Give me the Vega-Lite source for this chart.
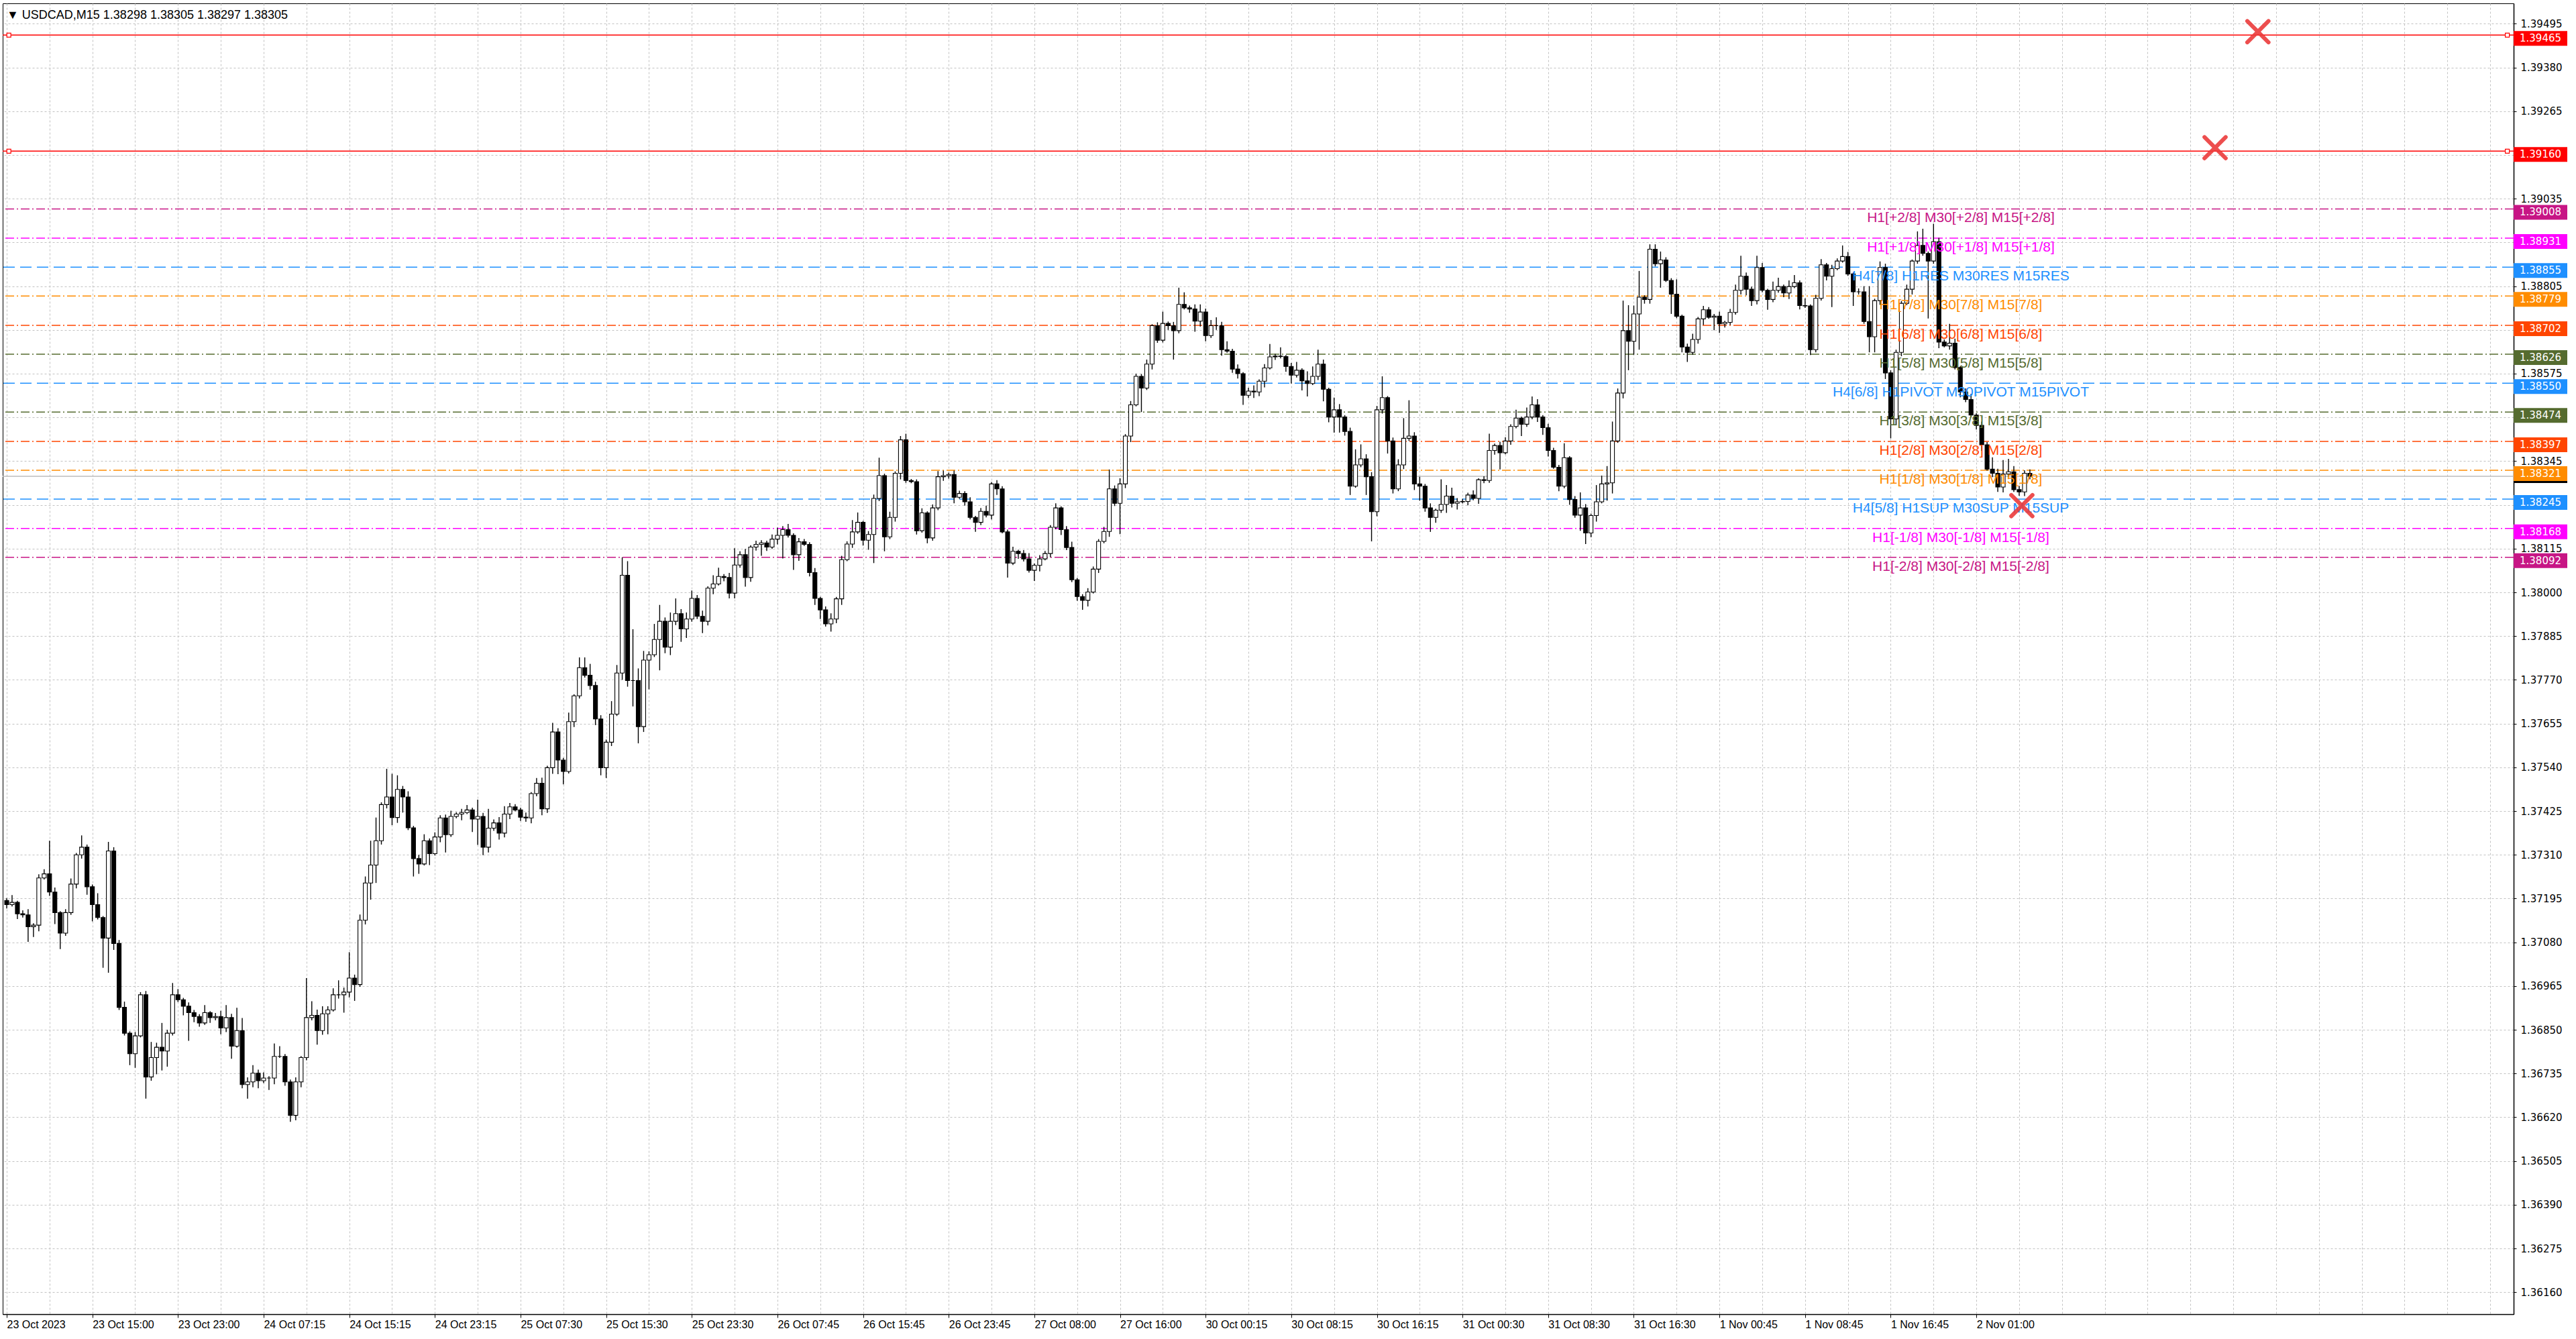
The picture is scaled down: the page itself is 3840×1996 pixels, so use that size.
{
  "$schema": "https://vega.github.io/schema/vega-lite/v6.json",
  "width": 3743,
  "height": 1954,
  "autosize": {"type": "none"},
  "padding": {"left": 4, "top": 5, "right": 93, "bottom": 37},
  "background": "#ffffff",
  "title": {
    "text": "▼  USDCAD,M15  1.38298 1.38305 1.38297 1.38305",
    "anchor": "start",
    "frame": "group",
    "orient": "top",
    "offset": -27,
    "dx": 6,
    "font": "Liberation Sans",
    "fontSize": 18,
    "fontWeight": "normal",
    "color": "#000000"
  },
  "config": {"view": {"stroke": "#000000", "strokeWidth": 1}},
  "datasets": {
    "levels": [
      {"p": 1.39465, "g": "SL"},
      {"p": 1.3916, "g": "SL"},
      {"p": 1.39008, "g": "2/8", "t": "H1[+2/8] M30[+2/8] M15[+2/8]"},
      {"p": 1.38931, "g": "1/8", "t": "H1[+1/8] M30[+1/8] M15[+1/8]"},
      {"p": 1.38855, "g": "H4", "t": "H4[7/8] H1RES M30RES M15RES"},
      {"p": 1.38779, "g": "7/8", "t": "H1[7/8] M30[7/8] M15[7/8]"},
      {"p": 1.38702, "g": "6/8", "t": "H1[6/8] M30[6/8] M15[6/8]"},
      {"p": 1.38626, "g": "5/8", "t": "H1[5/8] M30[5/8] M15[5/8]"},
      {"p": 1.3855, "g": "H4", "t": "H4[6/8] H1PIVOT M30PIVOT M15PIVOT"},
      {"p": 1.38474, "g": "5/8", "t": "H1[3/8] M30[3/8] M15[3/8]"},
      {"p": 1.38397, "g": "6/8", "t": "H1[2/8] M30[2/8] M15[2/8]"},
      {"p": 1.38321, "g": "7/8", "t": "H1[1/8] M30[1/8] M15[1/8]"},
      {"p": 1.38245, "g": "H4", "t": "H4[5/8] H1SUP M30SUP M15SUP"},
      {"p": 1.38168, "g": "1/8", "t": "H1[-1/8] M30[-1/8] M15[-1/8]"},
      {"p": 1.38092, "g": "2/8", "t": "H1[-2/8] M30[-2/8] M15[-2/8]"}
    ],
    "bid": [{"p": 1.38305}],
    "xs": [
      {"i": 420.6, "p": 1.39474},
      {"i": 412.6, "p": 1.39169},
      {"i": 376.5, "p": 1.38228}
    ],
    "bars": [
      {"i":0,"o":1.3719,"h":1.37196,"l":1.37169,"c":1.37179},
      {"i":1,"o":1.37179,"h":1.37204,"l":1.37174,"c":1.37185},
      {"i":2,"o":1.37185,"h":1.37189,"l":1.37141,"c":1.37155},
      {"i":3,"o":1.37155,"h":1.37164,"l":1.37145,"c":1.37152},
      {"i":4,"o":1.37152,"h":1.37167,"l":1.37081,"c":1.37121},
      {"i":5,"o":1.37121,"h":1.3713,"l":1.37094,"c":1.37125},
      {"i":6,"o":1.37125,"h":1.37259,"l":1.37109,"c":1.37249},
      {"i":7,"o":1.37249,"h":1.37272,"l":1.37245,"c":1.3726},
      {"i":8,"o":1.3726,"h":1.37347,"l":1.37202,"c":1.37212},
      {"i":9,"o":1.37212,"h":1.37224,"l":1.37128,"c":1.37158},
      {"i":10,"o":1.37158,"h":1.37162,"l":1.37062,"c":1.37104},
      {"i":11,"o":1.37104,"h":1.37167,"l":1.37097,"c":1.37158},
      {"i":12,"o":1.37158,"h":1.37248,"l":1.37152,"c":1.37233},
      {"i":13,"o":1.37233,"h":1.37315,"l":1.37222,"c":1.3731},
      {"i":14,"o":1.3731,"h":1.37361,"l":1.373,"c":1.3733},
      {"i":15,"o":1.3733,"h":1.37337,"l":1.37205,"c":1.37226},
      {"i":16,"o":1.37226,"h":1.37232,"l":1.37135,"c":1.37179},
      {"i":17,"o":1.37179,"h":1.37209,"l":1.3714,"c":1.37145},
      {"i":18,"o":1.37145,"h":1.37149,"l":1.37013,"c":1.37091},
      {"i":19,"o":1.37091,"h":1.37344,"l":1.37,"c":1.3732},
      {"i":20,"o":1.3732,"h":1.3733,"l":1.3706,"c":1.37077},
      {"i":21,"o":1.37077,"h":1.37086,"l":1.36902,"c":1.36909},
      {"i":22,"o":1.36909,"h":1.36924,"l":1.36835,"c":1.36841},
      {"i":23,"o":1.36841,"h":1.36846,"l":1.36757,"c":1.36787},
      {"i":24,"o":1.36787,"h":1.36844,"l":1.3675,"c":1.36834},
      {"i":25,"o":1.36834,"h":1.36949,"l":1.3683,"c":1.36942},
      {"i":26,"o":1.36942,"h":1.36952,"l":1.36669,"c":1.36726},
      {"i":27,"o":1.36726,"h":1.36818,"l":1.36716,"c":1.36777},
      {"i":28,"o":1.36777,"h":1.36816,"l":1.36733,"c":1.36804},
      {"i":29,"o":1.36804,"h":1.36868,"l":1.36743,"c":1.36794},
      {"i":30,"o":1.36794,"h":1.3685,"l":1.36753,"c":1.36841},
      {"i":31,"o":1.36841,"h":1.36973,"l":1.36835,"c":1.36942},
      {"i":32,"o":1.36942,"h":1.36957,"l":1.36923,"c":1.36929},
      {"i":33,"o":1.36929,"h":1.36934,"l":1.36888,"c":1.36912},
      {"i":34,"o":1.36912,"h":1.36922,"l":1.36821,"c":1.36895},
      {"i":35,"o":1.36895,"h":1.36902,"l":1.3687,"c":1.36885},
      {"i":36,"o":1.36885,"h":1.36891,"l":1.36858,"c":1.36868},
      {"i":37,"o":1.36868,"h":1.36915,"l":1.36863,"c":1.36895},
      {"i":38,"o":1.36895,"h":1.36899,"l":1.36868,"c":1.36882},
      {"i":39,"o":1.36882,"h":1.36894,"l":1.36875,"c":1.36885},
      {"i":40,"o":1.36885,"h":1.369,"l":1.36838,"c":1.36855},
      {"i":41,"o":1.36855,"h":1.36915,"l":1.36844,"c":1.36882},
      {"i":42,"o":1.36882,"h":1.36892,"l":1.36774,"c":1.36807},
      {"i":43,"o":1.36807,"h":1.36908,"l":1.36803,"c":1.36848},
      {"i":44,"o":1.36848,"h":1.36881,"l":1.36696,"c":1.36706},
      {"i":45,"o":1.36706,"h":1.36725,"l":1.36669,"c":1.36713},
      {"i":46,"o":1.36713,"h":1.36757,"l":1.36699,"c":1.36736},
      {"i":47,"o":1.36736,"h":1.36745,"l":1.36696,"c":1.36716},
      {"i":48,"o":1.36716,"h":1.36738,"l":1.3671,"c":1.36723},
      {"i":49,"o":1.36723,"h":1.36728,"l":1.36692,"c":1.36723},
      {"i":50,"o":1.36723,"h":1.36814,"l":1.36707,"c":1.3678},
      {"i":51,"o":1.3678,"h":1.36807,"l":1.36776,"c":1.3678},
      {"i":52,"o":1.3678,"h":1.36786,"l":1.36703,"c":1.36713},
      {"i":53,"o":1.36713,"h":1.36719,"l":1.36608,"c":1.36625},
      {"i":54,"o":1.36625,"h":1.36725,"l":1.36612,"c":1.36713},
      {"i":55,"o":1.36713,"h":1.36781,"l":1.36699,"c":1.36777},
      {"i":56,"o":1.36777,"h":1.36986,"l":1.3677,"c":1.36882},
      {"i":57,"o":1.36882,"h":1.36925,"l":1.36875,"c":1.36888},
      {"i":58,"o":1.36888,"h":1.36903,"l":1.36811,"c":1.36848},
      {"i":59,"o":1.36848,"h":1.36912,"l":1.36837,"c":1.36892},
      {"i":60,"o":1.36892,"h":1.36912,"l":1.36838,"c":1.36902},
      {"i":61,"o":1.36902,"h":1.36959,"l":1.36898,"c":1.36942},
      {"i":62,"o":1.36942,"h":1.3698,"l":1.36932,"c":1.36942},
      {"i":63,"o":1.36942,"h":1.36961,"l":1.36895,"c":1.36949},
      {"i":64,"o":1.36949,"h":1.37054,"l":1.36935,"c":1.36986},
      {"i":65,"o":1.36986,"h":1.36995,"l":1.36926,"c":1.36969},
      {"i":66,"o":1.36969,"h":1.37153,"l":1.36963,"c":1.37138},
      {"i":67,"o":1.37138,"h":1.37253,"l":1.37127,"c":1.37236},
      {"i":68,"o":1.37236,"h":1.37347,"l":1.37192,"c":1.37283},
      {"i":69,"o":1.37283,"h":1.37408,"l":1.37236,"c":1.37347},
      {"i":70,"o":1.37347,"h":1.37448,"l":1.37337,"c":1.37442},
      {"i":71,"o":1.37442,"h":1.37536,"l":1.37432,"c":1.37462},
      {"i":72,"o":1.37462,"h":1.37523,"l":1.37388,"c":1.37408},
      {"i":73,"o":1.37408,"h":1.37519,"l":1.37394,"c":1.37482},
      {"i":74,"o":1.37482,"h":1.37491,"l":1.37421,"c":1.37462},
      {"i":75,"o":1.37462,"h":1.37477,"l":1.37375,"c":1.37381},
      {"i":76,"o":1.37381,"h":1.37386,"l":1.37253,"c":1.373},
      {"i":77,"o":1.373,"h":1.3731,"l":1.3726,"c":1.37286},
      {"i":78,"o":1.37286,"h":1.37364,"l":1.37282,"c":1.37347},
      {"i":79,"o":1.37347,"h":1.37353,"l":1.37283,"c":1.37313},
      {"i":80,"o":1.37313,"h":1.37369,"l":1.37308,"c":1.37357},
      {"i":81,"o":1.37357,"h":1.37414,"l":1.37343,"c":1.37407},
      {"i":82,"o":1.37407,"h":1.37416,"l":1.37316,"c":1.37363},
      {"i":83,"o":1.37363,"h":1.37426,"l":1.37357,"c":1.37411},
      {"i":84,"o":1.37411,"h":1.37422,"l":1.37406,"c":1.37417},
      {"i":85,"o":1.37417,"h":1.37431,"l":1.37401,"c":1.37421},
      {"i":86,"o":1.37421,"h":1.37441,"l":1.37417,"c":1.37428},
      {"i":87,"o":1.37428,"h":1.37434,"l":1.3737,"c":1.37404},
      {"i":88,"o":1.37404,"h":1.37455,"l":1.37336,"c":1.37411},
      {"i":89,"o":1.37411,"h":1.3742,"l":1.37309,"c":1.3733},
      {"i":90,"o":1.3733,"h":1.37431,"l":1.37316,"c":1.3738},
      {"i":91,"o":1.3738,"h":1.37403,"l":1.37373,"c":1.37394},
      {"i":92,"o":1.37394,"h":1.37409,"l":1.3735,"c":1.37367},
      {"i":93,"o":1.37367,"h":1.37438,"l":1.37356,"c":1.37417},
      {"i":94,"o":1.37417,"h":1.37446,"l":1.37404,"c":1.37436},
      {"i":95,"o":1.37436,"h":1.37443,"l":1.37424,"c":1.37428},
      {"i":96,"o":1.37428,"h":1.37434,"l":1.37399,"c":1.37409},
      {"i":97,"o":1.37409,"h":1.37421,"l":1.37397,"c":1.37407},
      {"i":98,"o":1.37407,"h":1.37475,"l":1.37393,"c":1.37471},
      {"i":99,"o":1.37471,"h":1.37512,"l":1.37464,"c":1.37498},
      {"i":100,"o":1.37498,"h":1.37513,"l":1.37414,"c":1.37431},
      {"i":101,"o":1.37431,"h":1.37544,"l":1.3742,"c":1.37539},
      {"i":102,"o":1.37539,"h":1.37657,"l":1.37523,"c":1.37633},
      {"i":103,"o":1.37633,"h":1.37643,"l":1.37522,"c":1.37559},
      {"i":104,"o":1.37559,"h":1.37565,"l":1.37495,"c":1.37529},
      {"i":105,"o":1.37529,"h":1.37684,"l":1.37524,"c":1.3766},
      {"i":106,"o":1.3766,"h":1.37732,"l":1.37646,"c":1.37728},
      {"i":107,"o":1.37728,"h":1.37829,"l":1.37721,"c":1.37802},
      {"i":108,"o":1.37802,"h":1.37829,"l":1.37776,"c":1.37782},
      {"i":109,"o":1.37782,"h":1.37812,"l":1.37744,"c":1.37755},
      {"i":110,"o":1.37755,"h":1.37765,"l":1.37651,"c":1.37667},
      {"i":111,"o":1.37667,"h":1.37677,"l":1.37519,"c":1.37539},
      {"i":112,"o":1.37539,"h":1.37613,"l":1.37512,"c":1.37606},
      {"i":113,"o":1.37606,"h":1.37714,"l":1.37596,"c":1.3768},
      {"i":114,"o":1.3768,"h":1.37809,"l":1.37675,"c":1.37788},
      {"i":115,"o":1.37788,"h":1.38092,"l":1.3777,"c":1.38045},
      {"i":116,"o":1.38045,"h":1.38082,"l":1.37752,"c":1.37768},
      {"i":117,"o":1.37768,"h":1.37903,"l":1.377,"c":1.37768},
      {"i":118,"o":1.37768,"h":1.378,"l":1.37603,"c":1.37647},
      {"i":119,"o":1.37647,"h":1.37846,"l":1.37633,"c":1.37822},
      {"i":120,"o":1.37822,"h":1.37845,"l":1.37745,"c":1.37836},
      {"i":121,"o":1.37836,"h":1.37917,"l":1.3783,"c":1.37876},
      {"i":122,"o":1.37876,"h":1.37967,"l":1.37795,"c":1.37924},
      {"i":123,"o":1.37924,"h":1.37934,"l":1.3784,"c":1.37856},
      {"i":124,"o":1.37856,"h":1.37947,"l":1.37835,"c":1.37924},
      {"i":125,"o":1.37924,"h":1.37984,"l":1.37914,"c":1.37944},
      {"i":126,"o":1.37944,"h":1.37956,"l":1.3787,"c":1.37904},
      {"i":127,"o":1.37904,"h":1.37947,"l":1.3788,"c":1.3793},
      {"i":128,"o":1.3793,"h":1.38005,"l":1.37923,"c":1.37984},
      {"i":129,"o":1.37984,"h":1.37993,"l":1.3793,"c":1.37937},
      {"i":130,"o":1.37937,"h":1.37952,"l":1.37893,"c":1.37924},
      {"i":131,"o":1.37924,"h":1.38016,"l":1.37913,"c":1.38011},
      {"i":132,"o":1.38011,"h":1.38045,"l":1.37995,"c":1.38022},
      {"i":133,"o":1.38022,"h":1.38065,"l":1.38018,"c":1.38042},
      {"i":134,"o":1.38042,"h":1.38048,"l":1.38029,"c":1.38039},
      {"i":135,"o":1.38039,"h":1.38051,"l":1.37984,"c":1.37998},
      {"i":136,"o":1.37998,"h":1.38116,"l":1.37984,"c":1.38072},
      {"i":137,"o":1.38072,"h":1.38108,"l":1.38065,"c":1.38099},
      {"i":138,"o":1.38099,"h":1.38114,"l":1.38015,"c":1.38039},
      {"i":139,"o":1.38039,"h":1.38124,"l":1.38028,"c":1.38119},
      {"i":140,"o":1.38119,"h":1.38136,"l":1.3811,"c":1.38126},
      {"i":141,"o":1.38126,"h":1.38137,"l":1.38096,"c":1.3813},
      {"i":142,"o":1.3813,"h":1.38136,"l":1.38109,"c":1.38119},
      {"i":143,"o":1.38119,"h":1.38152,"l":1.38114,"c":1.3814},
      {"i":144,"o":1.3814,"h":1.3817,"l":1.38126,"c":1.3815},
      {"i":145,"o":1.3815,"h":1.38174,"l":1.38089,"c":1.38165},
      {"i":146,"o":1.38165,"h":1.3818,"l":1.38144,"c":1.3815},
      {"i":147,"o":1.3815,"h":1.38155,"l":1.38059,"c":1.38099},
      {"i":148,"o":1.38099,"h":1.38143,"l":1.38083,"c":1.38133},
      {"i":149,"o":1.38133,"h":1.3814,"l":1.38122,"c":1.38126},
      {"i":150,"o":1.38126,"h":1.38132,"l":1.38042,"c":1.38052},
      {"i":151,"o":1.38052,"h":1.38064,"l":1.37967,"c":1.37984},
      {"i":152,"o":1.37984,"h":1.37988,"l":1.3793,"c":1.37954},
      {"i":153,"o":1.37954,"h":1.37963,"l":1.3791,"c":1.37917},
      {"i":154,"o":1.37917,"h":1.37945,"l":1.37897,"c":1.3793},
      {"i":155,"o":1.3793,"h":1.37988,"l":1.37919,"c":1.37983},
      {"i":156,"o":1.37983,"h":1.38096,"l":1.37967,"c":1.38086},
      {"i":157,"o":1.38086,"h":1.38134,"l":1.38082,"c":1.38127},
      {"i":158,"o":1.38127,"h":1.3819,"l":1.38117,"c":1.38159},
      {"i":159,"o":1.38159,"h":1.3821,"l":1.38154,"c":1.38184},
      {"i":160,"o":1.38184,"h":1.38188,"l":1.38123,"c":1.38137},
      {"i":161,"o":1.38137,"h":1.38161,"l":1.38112,"c":1.38152},
      {"i":162,"o":1.38152,"h":1.38257,"l":1.38077,"c":1.38247},
      {"i":163,"o":1.38247,"h":1.38354,"l":1.3824,"c":1.38307},
      {"i":164,"o":1.38307,"h":1.38312,"l":1.38108,"c":1.38146},
      {"i":165,"o":1.38146,"h":1.38212,"l":1.3814,"c":1.38197},
      {"i":166,"o":1.38197,"h":1.38318,"l":1.38186,"c":1.38313},
      {"i":167,"o":1.38313,"h":1.38411,"l":1.38297,"c":1.38401},
      {"i":168,"o":1.38401,"h":1.38417,"l":1.38288,"c":1.38294},
      {"i":169,"o":1.38294,"h":1.38298,"l":1.38287,"c":1.38291},
      {"i":170,"o":1.38291,"h":1.38297,"l":1.38152,"c":1.38162},
      {"i":171,"o":1.38162,"h":1.38221,"l":1.38157,"c":1.38209},
      {"i":172,"o":1.38209,"h":1.38213,"l":1.38129,"c":1.38143},
      {"i":173,"o":1.38143,"h":1.38231,"l":1.38136,"c":1.38222},
      {"i":174,"o":1.38222,"h":1.38319,"l":1.38216,"c":1.38304},
      {"i":175,"o":1.38304,"h":1.3832,"l":1.38293,"c":1.38307},
      {"i":176,"o":1.38307,"h":1.38315,"l":1.38299,"c":1.3831},
      {"i":177,"o":1.3831,"h":1.3832,"l":1.38234,"c":1.3825},
      {"i":178,"o":1.3825,"h":1.38267,"l":1.38246,"c":1.3826},
      {"i":179,"o":1.3826,"h":1.38266,"l":1.38228,"c":1.38238},
      {"i":180,"o":1.38238,"h":1.3825,"l":1.38192,"c":1.38197},
      {"i":181,"o":1.38197,"h":1.38201,"l":1.38159,"c":1.38184},
      {"i":182,"o":1.38184,"h":1.38222,"l":1.38177,"c":1.38213},
      {"i":183,"o":1.38213,"h":1.38228,"l":1.38197,"c":1.38203},
      {"i":184,"o":1.38203,"h":1.3829,"l":1.38192,"c":1.38285},
      {"i":185,"o":1.38285,"h":1.38295,"l":1.38256,"c":1.38272},
      {"i":186,"o":1.38272,"h":1.38279,"l":1.38155,"c":1.38159},
      {"i":187,"o":1.38159,"h":1.38165,"l":1.38039,"c":1.38077},
      {"i":188,"o":1.38077,"h":1.3812,"l":1.38072,"c":1.38108},
      {"i":189,"o":1.38108,"h":1.38112,"l":1.38088,"c":1.38102},
      {"i":190,"o":1.38102,"h":1.38111,"l":1.38081,"c":1.38088},
      {"i":191,"o":1.38088,"h":1.38103,"l":1.38052,"c":1.38058},
      {"i":192,"o":1.38058,"h":1.38076,"l":1.3803,"c":1.38071},
      {"i":193,"o":1.38071,"h":1.38098,"l":1.38055,"c":1.38088},
      {"i":194,"o":1.38088,"h":1.38109,"l":1.38084,"c":1.38102},
      {"i":195,"o":1.38102,"h":1.38177,"l":1.38092,"c":1.38171},
      {"i":196,"o":1.38171,"h":1.38234,"l":1.38166,"c":1.38222},
      {"i":197,"o":1.38222,"h":1.38226,"l":1.38151,"c":1.38165},
      {"i":198,"o":1.38165,"h":1.38174,"l":1.38111,"c":1.38118},
      {"i":199,"o":1.38118,"h":1.38133,"l":1.38027,"c":1.38033},
      {"i":200,"o":1.38033,"h":1.38038,"l":1.37978,"c":1.37989},
      {"i":201,"o":1.37989,"h":1.37995,"l":1.37954,"c":1.37979},
      {"i":202,"o":1.37979,"h":1.38011,"l":1.37963,"c":1.38001},
      {"i":203,"o":1.38001,"h":1.38068,"l":1.37997,"c":1.38061},
      {"i":204,"o":1.38061,"h":1.3814,"l":1.38051,"c":1.38134},
      {"i":205,"o":1.38134,"h":1.38172,"l":1.38129,"c":1.3816},
      {"i":206,"o":1.3816,"h":1.38323,"l":1.38146,"c":1.38272},
      {"i":207,"o":1.38272,"h":1.38281,"l":1.38227,"c":1.38234},
      {"i":208,"o":1.38234,"h":1.383,"l":1.38153,"c":1.38285},
      {"i":209,"o":1.38285,"h":1.38416,"l":1.38274,"c":1.38411},
      {"i":210,"o":1.38411,"h":1.38503,"l":1.38395,"c":1.38493},
      {"i":211,"o":1.38493,"h":1.38575,"l":1.38489,"c":1.38568},
      {"i":212,"o":1.38568,"h":1.38574,"l":1.38474,"c":1.38537},
      {"i":213,"o":1.38537,"h":1.38612,"l":1.38532,"c":1.386},
      {"i":214,"o":1.386,"h":1.38705,"l":1.38586,"c":1.38701},
      {"i":215,"o":1.38701,"h":1.3871,"l":1.38656,"c":1.38663},
      {"i":216,"o":1.38663,"h":1.38738,"l":1.38657,"c":1.38707},
      {"i":217,"o":1.38707,"h":1.38712,"l":1.3869,"c":1.38701},
      {"i":218,"o":1.38701,"h":1.38711,"l":1.38612,"c":1.38688},
      {"i":219,"o":1.38688,"h":1.38801,"l":1.38681,"c":1.38757},
      {"i":220,"o":1.38757,"h":1.38789,"l":1.38744,"c":1.38748},
      {"i":221,"o":1.38748,"h":1.38754,"l":1.38735,"c":1.38745},
      {"i":222,"o":1.38745,"h":1.38757,"l":1.38685,"c":1.38713},
      {"i":223,"o":1.38713,"h":1.38757,"l":1.38699,"c":1.38737},
      {"i":224,"o":1.38737,"h":1.38746,"l":1.3866,"c":1.38675},
      {"i":225,"o":1.38675,"h":1.38716,"l":1.38669,"c":1.38701},
      {"i":226,"o":1.38701,"h":1.38723,"l":1.3869,"c":1.38701},
      {"i":227,"o":1.38701,"h":1.38711,"l":1.38622,"c":1.38638},
      {"i":228,"o":1.38638,"h":1.3866,"l":1.3863,"c":1.38634},
      {"i":229,"o":1.38634,"h":1.3864,"l":1.38577,"c":1.38587},
      {"i":230,"o":1.38587,"h":1.38599,"l":1.38562,"c":1.38575},
      {"i":231,"o":1.38575,"h":1.38579,"l":1.38493,"c":1.38518},
      {"i":232,"o":1.38518,"h":1.38538,"l":1.38511,"c":1.38529},
      {"i":233,"o":1.38529,"h":1.38544,"l":1.38511,"c":1.38527},
      {"i":234,"o":1.38527,"h":1.3856,"l":1.38516,"c":1.38555},
      {"i":235,"o":1.38555,"h":1.386,"l":1.38539,"c":1.3859},
      {"i":236,"o":1.3859,"h":1.38653,"l":1.38586,"c":1.38619},
      {"i":237,"o":1.38619,"h":1.38627,"l":1.38611,"c":1.38621},
      {"i":238,"o":1.38621,"h":1.38644,"l":1.38615,"c":1.3862},
      {"i":239,"o":1.3862,"h":1.38624,"l":1.3858,"c":1.38594},
      {"i":240,"o":1.38594,"h":1.38603,"l":1.38549,"c":1.38571},
      {"i":241,"o":1.38571,"h":1.38606,"l":1.38565,"c":1.38584},
      {"i":242,"o":1.38584,"h":1.38589,"l":1.38531,"c":1.38556},
      {"i":243,"o":1.38556,"h":1.38581,"l":1.38515,"c":1.38549},
      {"i":244,"o":1.38549,"h":1.38594,"l":1.38545,"c":1.38568},
      {"i":245,"o":1.38568,"h":1.38638,"l":1.38558,"c":1.386},
      {"i":246,"o":1.386,"h":1.38612,"l":1.38502,"c":1.38534},
      {"i":247,"o":1.38534,"h":1.38538,"l":1.38447,"c":1.38461},
      {"i":248,"o":1.38461,"h":1.38512,"l":1.3842,"c":1.3848},
      {"i":249,"o":1.3848,"h":1.38495,"l":1.3842,"c":1.38461},
      {"i":250,"o":1.38461,"h":1.38466,"l":1.38412,"c":1.38423},
      {"i":251,"o":1.38423,"h":1.38433,"l":1.38256,"c":1.38279},
      {"i":252,"o":1.38279,"h":1.38376,"l":1.38275,"c":1.38335},
      {"i":253,"o":1.38335,"h":1.38389,"l":1.38329,"c":1.38351},
      {"i":254,"o":1.38351,"h":1.38363,"l":1.38256,"c":1.38304},
      {"i":255,"o":1.38304,"h":1.38316,"l":1.38134,"c":1.38212},
      {"i":256,"o":1.38212,"h":1.3849,"l":1.382,"c":1.3848},
      {"i":257,"o":1.3848,"h":1.38568,"l":1.3847,"c":1.38512},
      {"i":258,"o":1.38512,"h":1.38516,"l":1.38365,"c":1.38398},
      {"i":259,"o":1.38398,"h":1.38407,"l":1.3826,"c":1.38272},
      {"i":260,"o":1.38272,"h":1.3835,"l":1.38266,"c":1.38335},
      {"i":261,"o":1.38335,"h":1.38458,"l":1.38324,"c":1.38405},
      {"i":262,"o":1.38405,"h":1.38505,"l":1.38398,"c":1.38411},
      {"i":263,"o":1.38411,"h":1.38421,"l":1.38269,"c":1.38285},
      {"i":264,"o":1.38285,"h":1.38304,"l":1.38241,"c":1.38279},
      {"i":265,"o":1.38279,"h":1.38285,"l":1.38212,"c":1.38222},
      {"i":266,"o":1.38222,"h":1.38234,"l":1.38159,"c":1.38197},
      {"i":267,"o":1.38197,"h":1.3822,"l":1.38183,"c":1.38216},
      {"i":268,"o":1.38216,"h":1.38297,"l":1.38209,"c":1.38231},
      {"i":269,"o":1.38231,"h":1.38282,"l":1.38209,"c":1.38253},
      {"i":270,"o":1.38253,"h":1.38275,"l":1.38223,"c":1.38234},
      {"i":271,"o":1.38234,"h":1.38248,"l":1.38218,"c":1.38238},
      {"i":272,"o":1.38238,"h":1.38246,"l":1.38234,"c":1.38239},
      {"i":273,"o":1.38239,"h":1.38262,"l":1.38229,"c":1.38256},
      {"i":274,"o":1.38256,"h":1.38268,"l":1.38242,"c":1.38247},
      {"i":275,"o":1.38247,"h":1.383,"l":1.38233,"c":1.38296},
      {"i":276,"o":1.38296,"h":1.38305,"l":1.38287,"c":1.38294},
      {"i":277,"o":1.38294,"h":1.38417,"l":1.38288,"c":1.38373},
      {"i":278,"o":1.38373,"h":1.38391,"l":1.38362,"c":1.38386},
      {"i":279,"o":1.38386,"h":1.38396,"l":1.38323,"c":1.38367},
      {"i":280,"o":1.38367,"h":1.38408,"l":1.38363,"c":1.38398},
      {"i":281,"o":1.38398,"h":1.38442,"l":1.38388,"c":1.38436},
      {"i":282,"o":1.38436,"h":1.3848,"l":1.38431,"c":1.38458},
      {"i":283,"o":1.38458,"h":1.38462,"l":1.38411,"c":1.38442},
      {"i":284,"o":1.38442,"h":1.38486,"l":1.38435,"c":1.38461},
      {"i":285,"o":1.38461,"h":1.38515,"l":1.38455,"c":1.38493},
      {"i":286,"o":1.38493,"h":1.38508,"l":1.38448,"c":1.38461},
      {"i":287,"o":1.38461,"h":1.38466,"l":1.38414,"c":1.38433},
      {"i":288,"o":1.38433,"h":1.38443,"l":1.38357,"c":1.38373},
      {"i":289,"o":1.38373,"h":1.3838,"l":1.38325,"c":1.38329},
      {"i":290,"o":1.38329,"h":1.38335,"l":1.38266,"c":1.38279},
      {"i":291,"o":1.38279,"h":1.38392,"l":1.38274,"c":1.38354},
      {"i":292,"o":1.38354,"h":1.38358,"l":1.3823,"c":1.38244},
      {"i":293,"o":1.38244,"h":1.38253,"l":1.38196,"c":1.38203},
      {"i":294,"o":1.38203,"h":1.38263,"l":1.38162,"c":1.38222},
      {"i":295,"o":1.38222,"h":1.38232,"l":1.38127,"c":1.38156},
      {"i":296,"o":1.38156,"h":1.38207,"l":1.38145,"c":1.38202},
      {"i":297,"o":1.38202,"h":1.38282,"l":1.38186,"c":1.38238},
      {"i":298,"o":1.38238,"h":1.38307,"l":1.38234,"c":1.38285},
      {"i":299,"o":1.38285,"h":1.38332,"l":1.38241,"c":1.38288},
      {"i":300,"o":1.38288,"h":1.38449,"l":1.3826,"c":1.38398},
      {"i":301,"o":1.38398,"h":1.38536,"l":1.38393,"c":1.38524},
      {"i":302,"o":1.38524,"h":1.38767,"l":1.3851,"c":1.38688},
      {"i":303,"o":1.38688,"h":1.38755,"l":1.38584,"c":1.3866},
      {"i":304,"o":1.3866,"h":1.38754,"l":1.38625,"c":1.38732},
      {"i":305,"o":1.38732,"h":1.38845,"l":1.38638,"c":1.38776},
      {"i":306,"o":1.38776,"h":1.38781,"l":1.38759,"c":1.3877},
      {"i":307,"o":1.3877,"h":1.38915,"l":1.38759,"c":1.38902},
      {"i":308,"o":1.38902,"h":1.38915,"l":1.38857,"c":1.38864},
      {"i":309,"o":1.38864,"h":1.38896,"l":1.38801,"c":1.38874},
      {"i":310,"o":1.38874,"h":1.38881,"l":1.38816,"c":1.3882},
      {"i":311,"o":1.3882,"h":1.38826,"l":1.38732,"c":1.38784},
      {"i":312,"o":1.38784,"h":1.38823,"l":1.38721,"c":1.38726},
      {"i":313,"o":1.38726,"h":1.3873,"l":1.38631,"c":1.38645},
      {"i":314,"o":1.38645,"h":1.38654,"l":1.38606,"c":1.38631},
      {"i":315,"o":1.38631,"h":1.3868,"l":1.38625,"c":1.38665},
      {"i":316,"o":1.38665,"h":1.38724,"l":1.38654,"c":1.38719},
      {"i":317,"o":1.38719,"h":1.38753,"l":1.38703,"c":1.38743},
      {"i":318,"o":1.38743,"h":1.3875,"l":1.38719,"c":1.38723},
      {"i":319,"o":1.38723,"h":1.38732,"l":1.38689,"c":1.38726},
      {"i":320,"o":1.38726,"h":1.38738,"l":1.38682,"c":1.38706},
      {"i":321,"o":1.38706,"h":1.38714,"l":1.38696,"c":1.3871},
      {"i":322,"o":1.3871,"h":1.38745,"l":1.38703,"c":1.38736},
      {"i":323,"o":1.38736,"h":1.38809,"l":1.3873,"c":1.38794},
      {"i":324,"o":1.38794,"h":1.38885,"l":1.38783,"c":1.38831},
      {"i":325,"o":1.38831,"h":1.38841,"l":1.38781,"c":1.38797},
      {"i":326,"o":1.38797,"h":1.38804,"l":1.38753,"c":1.38767},
      {"i":327,"o":1.38767,"h":1.38885,"l":1.38757,"c":1.38854},
      {"i":328,"o":1.38854,"h":1.38866,"l":1.38789,"c":1.38794},
      {"i":329,"o":1.38794,"h":1.38798,"l":1.38743,"c":1.3877},
      {"i":330,"o":1.3877,"h":1.38817,"l":1.38763,"c":1.38794},
      {"i":331,"o":1.38794,"h":1.38827,"l":1.38788,"c":1.38804},
      {"i":332,"o":1.38804,"h":1.38809,"l":1.38776,"c":1.38787},
      {"i":333,"o":1.38787,"h":1.3882,"l":1.38771,"c":1.38804},
      {"i":334,"o":1.38804,"h":1.38834,"l":1.388,"c":1.38814},
      {"i":335,"o":1.38814,"h":1.3882,"l":1.38744,"c":1.38754},
      {"i":336,"o":1.38754,"h":1.38773,"l":1.38748,"c":1.38753},
      {"i":337,"o":1.38753,"h":1.38757,"l":1.38624,"c":1.38638},
      {"i":338,"o":1.38638,"h":1.38782,"l":1.38631,"c":1.38773},
      {"i":339,"o":1.38773,"h":1.38876,"l":1.38767,"c":1.38861},
      {"i":340,"o":1.38861,"h":1.38866,"l":1.3882,"c":1.38831},
      {"i":341,"o":1.38831,"h":1.38861,"l":1.3875,"c":1.38851},
      {"i":342,"o":1.38851,"h":1.38878,"l":1.38847,"c":1.38871},
      {"i":343,"o":1.38871,"h":1.38912,"l":1.38867,"c":1.38883},
      {"i":344,"o":1.38883,"h":1.38895,"l":1.38832,"c":1.38837},
      {"i":345,"o":1.38837,"h":1.38841,"l":1.38753,"c":1.3879},
      {"i":346,"o":1.3879,"h":1.38799,"l":1.38783,"c":1.3879},
      {"i":347,"o":1.3879,"h":1.38805,"l":1.38706,"c":1.38712},
      {"i":348,"o":1.38712,"h":1.38805,"l":1.38631,"c":1.38672},
      {"i":349,"o":1.38672,"h":1.38772,"l":1.38631,"c":1.38767},
      {"i":350,"o":1.38767,"h":1.3887,"l":1.38756,"c":1.38854},
      {"i":351,"o":1.38854,"h":1.38864,"l":1.38561,"c":1.38577},
      {"i":352,"o":1.38577,"h":1.38584,"l":1.38405,"c":1.38456},
      {"i":353,"o":1.38456,"h":1.38638,"l":1.3844,"c":1.38631},
      {"i":354,"o":1.38631,"h":1.38766,"l":1.38621,"c":1.3876},
      {"i":355,"o":1.3876,"h":1.38809,"l":1.38755,"c":1.38797},
      {"i":356,"o":1.38797,"h":1.38875,"l":1.38783,"c":1.38871},
      {"i":357,"o":1.38871,"h":1.38949,"l":1.38864,"c":1.38912},
      {"i":358,"o":1.38912,"h":1.38956,"l":1.38885,"c":1.38891},
      {"i":359,"o":1.38891,"h":1.38896,"l":1.3872,"c":1.38871},
      {"i":360,"o":1.38871,"h":1.38969,"l":1.38864,"c":1.38922},
      {"i":361,"o":1.38922,"h":1.38932,"l":1.38642,"c":1.38658},
      {"i":362,"o":1.38658,"h":1.38665,"l":1.38644,"c":1.38648},
      {"i":363,"o":1.38648,"h":1.38706,"l":1.38638,"c":1.38655},
      {"i":364,"o":1.38655,"h":1.38667,"l":1.38586,"c":1.38591},
      {"i":365,"o":1.38591,"h":1.38595,"l":1.38513,"c":1.38527},
      {"i":366,"o":1.38527,"h":1.38536,"l":1.385,"c":1.38507},
      {"i":367,"o":1.38507,"h":1.38522,"l":1.3846,"c":1.38466},
      {"i":368,"o":1.38466,"h":1.38471,"l":1.38428,"c":1.38439},
      {"i":369,"o":1.38439,"h":1.38449,"l":1.38372,"c":1.38388},
      {"i":370,"o":1.38388,"h":1.38395,"l":1.3832,"c":1.38324},
      {"i":371,"o":1.38324,"h":1.38355,"l":1.38303,"c":1.38313},
      {"i":372,"o":1.38313,"h":1.38325,"l":1.38264,"c":1.38277},
      {"i":373,"o":1.38277,"h":1.38348,"l":1.38263,"c":1.38311},
      {"i":374,"o":1.38311,"h":1.38351,"l":1.38304,"c":1.38317},
      {"i":375,"o":1.38317,"h":1.38332,"l":1.38264,"c":1.3827},
      {"i":376,"o":1.3827,"h":1.3828,"l":1.38254,"c":1.38264},
      {"i":377,"o":1.38264,"h":1.38321,"l":1.38253,"c":1.38313},
      {"i":378,"o":1.38313,"h":1.38323,"l":1.38297,"c":1.38305}
    ]
  },
  "layer": [
    {
      "data": {"name": "levels"},
      "mark": {"type": "rule", "strokeWidth": 1.5},
      "encoding": {
        "y": {
          "field": "p", "type": "quantitative", "title": null,
          "scale": {"domain": [1.361023, 1.395485], "nice": false, "zero": false},
          "axis": {
            "orient": "right",
            "values": [1.3616, 1.36275, 1.3639, 1.36505, 1.3662, 1.36735, 1.3685, 1.36965, 1.3708, 1.37195, 1.3731, 1.37425, 1.3754, 1.37655, 1.3777, 1.37885, 1.38, 1.38115, 1.3823, 1.38345, 1.3846, 1.38575, 1.3869, 1.38805, 1.3892, 1.39035, 1.3915, 1.39265, 1.3938, 1.39495],
            "format": ".5f",
            "labelExpr": "indexof(['1.38230','1.38460','1.38690','1.38920','1.39150'], datum.label) >= 0 ? '' : datum.label",
            "labelFont": "DejaVu Sans",
            "labelFontSize": 15,
            "labelColor": "#000000",
            "labelPadding": 6,
            "labelBaseline": "middle",
            "labelOverlap": false,
            "labelFlush": false,
            "labelBound": false,
            "tickSize": 4,
            "tickColor": "#000000",
            "domainColor": "#000000",
            "domainWidth": 1.5,
            "grid": true,
            "gridColor": "#C2C2C2",
            "gridDash": [3, 3],
            "gridWidth": 1
          }
        },
        "color": {
          "field": "g", "type": "nominal", "legend": null,
          "scale": {
            "domain": ["SL", "2/8", "1/8", "H4", "7/8", "6/8", "5/8"],
            "range": ["#FF0000", "#C71585", "#FF00FF", "#1E90FF", "#FF8C00", "#FF4500", "#556B2F"]
          }
        },
        "strokeDash": {
          "field": "g", "type": "nominal", "legend": null,
          "scale": {
            "domain": ["SL", "2/8", "1/8", "H4", "7/8", "6/8", "5/8"],
            "range": [[1, 0], [13, 4, 2, 4], [13, 4, 2, 4], [17, 8], [13, 4, 2, 4], [13, 4, 2, 4], [13, 4, 2, 4]]
          }
        }
      }
    },
    {
      "data": {"name": "bid"},
      "mark": {"type": "rule", "color": "#BDBDBD", "strokeWidth": 1.5},
      "encoding": {
        "y": {"field": "p", "type": "quantitative", "title": null, "scale": {"domain": [1.361023, 1.395485], "nice": false, "zero": false}}
      }
    },
    {
      "data": {"name": "bars"},
      "mark": {"type": "rule", "color": "#000000", "strokeWidth": 1.4},
      "encoding": {
        "x": {
          "field": "i", "type": "quantitative", "title": null,
          "scale": {"domain": [-0.125, 467.75], "nice": false, "zero": false},
          "axis": {
            "values": [0, 8, 16, 24, 32, 40, 48, 56, 64, 72, 80, 88, 96, 104, 112, 120, 128, 136, 144, 152, 160, 168, 176, 184, 192, 200, 208, 216, 224, 232, 240, 248, 256, 264, 272, 280, 288, 296, 304, 312, 320, 328, 336, 344, 352, 360, 368, 376, 384, 392, 400, 408, 416, 424, 432, 440, 448, 456, 464],
            "labelExpr": "(datum.value % 16 === 0 && datum.value <= 368) ? ['23 Oct 2023','23 Oct 15:00','23 Oct 23:00','24 Oct 07:15','24 Oct 15:15','24 Oct 23:15','25 Oct 07:30','25 Oct 15:30','25 Oct 23:30','26 Oct 07:45','26 Oct 15:45','26 Oct 23:45','27 Oct 08:00','27 Oct 16:00','30 Oct 00:15','30 Oct 08:15','30 Oct 16:15','31 Oct 00:30','31 Oct 08:30','31 Oct 16:30','1 Nov 00:45','1 Nov 08:45','1 Nov 16:45','2 Nov 01:00'][datum.value / 16] : ''",
            "labelAlign": "left",
            "labelBaseline": "top",
            "labelFont": "Liberation Sans",
            "labelFontSize": 16,
            "labelColor": "#000000",
            "labelPadding": 2,
            "labelOverlap": false,
            "labelFlush": false,
            "labelBound": false,
            "tickSize": 5,
            "tickColor": "#000000",
            "tickOpacity": {"condition": {"test": "datum.value % 16 === 0 && datum.value <= 368", "value": 1}, "value": 0},
            "domainColor": "#000000",
            "domainWidth": 1.5,
            "grid": true,
            "gridColor": "#C2C2C2",
            "gridDash": [3, 3],
            "gridWidth": 1
          }
        },
        "y": {"field": "l", "type": "quantitative", "title": null, "scale": {"domain": [1.361023, 1.395485], "nice": false, "zero": false}},
        "y2": {"field": "h"}
      }
    },
    {
      "data": {"name": "bars"},
      "mark": {"type": "bar", "width": 6, "stroke": "#000000", "strokeWidth": 1.1},
      "encoding": {
        "x": {"field": "i", "type": "quantitative", "title": null, "scale": {"domain": [-0.125, 467.75], "nice": false, "zero": false}},
        "y": {"field": "o", "type": "quantitative", "title": null, "scale": {"domain": [1.361023, 1.395485], "nice": false, "zero": false}},
        "y2": {"field": "c"},
        "fill": {"condition": {"test": "datum.c >= datum.o", "value": "#ffffff"}, "value": "#000000"}
      }
    },
    {
      "data": {"name": "levels"},
      "transform": [{"filter": "isValid(datum.t)"}],
      "mark": {"type": "text", "align": "center", "baseline": "alphabetic", "dy": 20, "font": "Liberation Sans", "fontSize": 21},
      "encoding": {
        "x": {"datum": 365.1, "type": "quantitative", "scale": {"domain": [-0.125, 467.75], "nice": false, "zero": false}},
        "y": {"field": "p", "type": "quantitative", "title": null, "scale": {"domain": [1.361023, 1.395485], "nice": false, "zero": false}},
        "text": {"field": "t"},
        "color": {"field": "g", "type": "nominal", "legend": null}
      }
    },
    {
      "data": {"name": "levels"},
      "transform": [{"filter": "datum.g === 'SL'"}],
      "mark": {"type": "point", "shape": "square", "size": 36, "filled": true, "fill": "#ffffff", "stroke": "#FF0000", "strokeWidth": 1.2, "opacity": 1},
      "encoding": {
        "x": {"datum": 0.4, "type": "quantitative", "scale": {"domain": [-0.125, 467.75], "nice": false, "zero": false}},
        "y": {"field": "p", "type": "quantitative", "title": null, "scale": {"domain": [1.361023, 1.395485], "nice": false, "zero": false}}
      }
    },
    {
      "data": {"name": "levels"},
      "transform": [{"filter": "datum.g === 'SL'"}],
      "mark": {"type": "point", "shape": "square", "size": 36, "filled": true, "fill": "#ffffff", "stroke": "#FF0000", "strokeWidth": 1.2, "opacity": 1},
      "encoding": {
        "x": {"datum": 467.2, "type": "quantitative", "scale": {"domain": [-0.125, 467.75], "nice": false, "zero": false}},
        "y": {"field": "p", "type": "quantitative", "title": null, "scale": {"domain": [1.361023, 1.395485], "nice": false, "zero": false}}
      }
    },
    {
      "data": {"name": "xs"},
      "mark": {"type": "point", "shape": "M-1,-1L1,1M1,-1L-1,1", "size": 1000, "filled": false, "stroke": "#EC3B3B", "strokeWidth": 6, "strokeCap": "round", "opacity": 0.9},
      "encoding": {
        "x": {"field": "i", "type": "quantitative", "title": null, "scale": {"domain": [-0.125, 467.75], "nice": false, "zero": false}},
        "y": {"field": "p", "type": "quantitative", "title": null, "scale": {"domain": [1.361023, 1.395485], "nice": false, "zero": false}}
      }
    },
    {
      "data": {"name": "bid"},
      "mark": {"type": "point", "shape": "M0,-0.3H2V0.25H0Z", "size": 6400, "filled": true, "fill": "#000000", "strokeWidth": 0, "opacity": 1},
      "encoding": {
        "x": {"value": "width"},
        "y": {"field": "p", "type": "quantitative", "title": null, "scale": {"domain": [1.361023, 1.395485], "nice": false, "zero": false}}
      }
    },
    {
      "data": {"name": "levels"},
      "mark": {"type": "point", "shape": "M0,-0.15H2V0.4H0Z", "size": 6400, "filled": true, "strokeWidth": 0, "opacity": 1},
      "encoding": {
        "x": {"value": "width"},
        "y": {"field": "p", "type": "quantitative", "title": null, "scale": {"domain": [1.361023, 1.395485], "nice": false, "zero": false}},
        "color": {"field": "g", "type": "nominal", "legend": null}
      }
    },
    {
      "data": {"name": "levels"},
      "mark": {"type": "text", "align": "left", "baseline": "middle", "dx": 9, "dy": 5, "font": "DejaVu Sans", "fontSize": 15, "color": "#ffffff"},
      "encoding": {
        "x": {"value": "width"},
        "y": {"field": "p", "type": "quantitative", "title": null, "scale": {"domain": [1.361023, 1.395485], "nice": false, "zero": false}},
        "text": {"field": "p", "type": "quantitative", "format": ".5f"}
      }
    }
  ]
}
